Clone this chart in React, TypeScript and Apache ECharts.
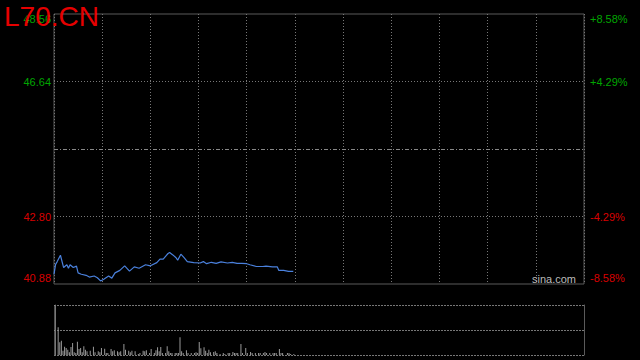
import React, { useEffect, useRef } from "react";
import * as echarts from "echarts";

const title = "L70.CN";
const prevClose = 44.72;
const pctTicks = [-8.58, -4.29, 0, 4.29, 8.58];

// minute index since open, price
const priceMinutes = [0, 1, 2, 4, 6, 8, 9, 10, 12, 14, 15, 17, 20, 22, 25, 27, 29, 31, 34, 36, 38, 41, 44, 47, 50, 53, 57, 60, 64, 66, 68, 71, 72, 74, 76, 77, 79, 81, 83, 87, 91, 93, 95, 98, 101, 104, 108, 111, 114, 117, 120, 122, 126, 130, 132, 136, 139, 140, 143, 146, 149];
const prices = [41.16, 41.44, 41.52, 41.70, 41.35, 41.43, 41.33, 41.43, 41.35, 41.39, 41.20, 41.16, 41.13, 41.08, 41.11, 41.06, 40.97, 41.02, 41.11, 41.05, 41.20, 41.27, 41.40, 41.25, 41.37, 41.33, 41.43, 41.40, 41.49, 41.59, 41.59, 41.75, 41.78, 41.71, 41.63, 41.56, 41.73, 41.63, 41.52, 41.49, 41.48, 41.52, 41.46, 41.50, 41.47, 41.51, 41.48, 41.50, 41.47, 41.47, 41.46, 41.43, 41.38, 41.38, 41.39, 41.37, 41.37, 41.27, 41.27, 41.24, 41.24];

const volMinutes = [0, 2, 3, 4, 5, 6, 7, 8, 9, 10, 11, 12, 13, 14, 15, 16, 17, 18, 19, 20, 22, 24, 25, 27, 28, 29, 31, 32, 33, 35, 36, 37, 39, 40, 41, 43, 44, 46, 47, 48, 50, 52, 53, 55, 56, 57, 59, 60, 62, 63, 64, 65, 66, 67, 69, 70, 71, 72, 73, 75, 76, 77, 78, 79, 80, 82, 83, 85, 87, 88, 89, 90, 91, 93, 94, 95, 96, 97, 99, 100, 101, 103, 105, 106, 108, 109, 111, 112, 113, 114, 116, 117, 119, 120, 122, 123, 125, 127, 128, 130, 131, 132, 134, 136, 137, 138, 140, 141, 142, 145, 146, 147, 149];
const volumes = [50, 27.7, 12.7, 14.3, 4.3, 8.3, 7, 5.3, 2.7, 8, 12, 2.7, 2, 13.3, 6, 7, 2.7, 8.7, 5.3, 3.7, 4.3, 8.3, 2.7, 3.7, 2.7, 7, 6.3, 2, 2, 6, 3.7, 4.7, 3.7, 2.7, 3.7, 11, 5.3, 4.3, 2.7, 4.3, 3.7, 1, 2, 4.3, 3.7, 4.7, 2, 6, 2, 4.7, 7.7, 3.7, 8, 2, 2, 8.7, 3.7, 2, 2, 2, 2, 2, 17.7, 3.7, 2, 4.7, 2, 2, 2, 2.7, 2, 13, 6.7, 7.7, 4.3, 2, 5.3, 2.7, 3, 3.7, 2, 1, 2, 1, 2, 2, 3, 2, 2, 2, 11, 2, 7, 2, 3, 2, 2, 2, 2, 2, 3, 2, 2, 2, 2, 2, 6, 2, 2, 2, 2, 1, 1];

const font = 'Arial, "Liberation Sans", sans-serif';
const green = "#00a600";
const red = "#d80000";

export default function App() {
  const ref = useRef<HTMLDivElement>(null);
  useEffect(() => {
    if (!ref.current) return;
    const chart = echarts.init(ref.current, null, { renderer: "svg" });
    const toPct = (p: number) => (p / prevClose - 1) * 100;
    const pctMin = pctTicks[0];
    const pctMax = pctTicks[pctTicks.length - 1];
    const near = (a: number, b: number) => Math.abs(a - b) < 1e-6;
    const leftFmt = (v: number) => {
      if (near(v, 0)) return "";
      const s = (prevClose * (1 + v / 100)).toFixed(2);
      const st = v > 0 ? "g" : "r";
      if (near(v, pctMax)) return `{gt|${s}}`;
      if (near(v, pctMin)) return `{rb|${s}}`;
      return `{${st}|${s}}`;
    };
    const rightFmt = (v: number) => {
      if (near(v, 0)) return "";
      const s = (v > 0 ? "+" : "") + v.toFixed(2) + "%";
      if (near(v, pctMax)) return `{gt|${s}}`;
      if (near(v, pctMin)) return `{rb|${s}}`;
      return `{${v > 0 ? "g" : "r"}|${s}}`;
    };
    const rich = {
      g: { color: green, fontSize: 11, fontFamily: font },
      r: { color: red, fontSize: 11, fontFamily: font },
      gt: { color: green, fontSize: 11, fontFamily: font, padding: [10, 0, 0, 0] },
      rb: { color: red, fontSize: 11, fontFamily: font, padding: [0, 0, 12, 0] },
    };
    chart.setOption({
      animation: false,
      backgroundColor: "#000",
      grid: [
        { left: 54, top: 14, width: 530, height: 270, show: true, borderColor: "#5a5a5a", borderWidth: 1, backgroundColor: "transparent" },
        { left: 54, top: 305, width: 530, height: 50 },
      ],
      xAxis: [
        {
          type: "value", gridIndex: 0, min: 0, max: 330, interval: 30,
          axisLine: { show: false }, axisTick: { show: false }, axisLabel: { show: false },
          splitLine: { show: true, lineStyle: { color: "#777", type: [1, 2], width: 1 } },
        },
        {
          type: "value", gridIndex: 1, min: -0.6, max: 330,
          axisLine: { show: false }, axisTick: { show: false }, axisLabel: { show: false },
          splitLine: { show: false },
        },
      ],
      yAxis: [
        {
          type: "value", gridIndex: 0, position: "left", min: pctMin, max: pctMax, interval: 4.29,
          axisLine: { show: false }, axisTick: { show: false },
          axisLabel: { margin: 3, formatter: leftFmt, rich },
          splitLine: { show: true, lineStyle: { color: ["transparent", "#777", "transparent", "#777", "transparent"], type: [1, 2], width: 1 } },
        },
        {
          type: "value", gridIndex: 0, position: "right", min: pctMin, max: pctMax, interval: 4.29,
          axisLine: { show: false }, axisTick: { show: false },
          axisLabel: { margin: 6, formatter: rightFmt, rich },
          splitLine: { show: false },
        },
        {
          type: "value", gridIndex: 1, position: "left", min: 0, max: 50, interval: 25,
          axisLine: { show: true, lineStyle: { color: "#5a5a5a" } }, axisTick: { show: false }, axisLabel: { show: false },
          splitLine: { show: true, lineStyle: { color: "#777", type: [2, 1], width: 1 } },
        },
        {
          type: "value", gridIndex: 1, position: "right", min: 0, max: 50, interval: 25,
          axisLine: { show: true, lineStyle: { color: "#5a5a5a" } }, axisTick: { show: false }, axisLabel: { show: false },
          splitLine: { show: false },
        },
      ],
      series: [
        {
          type: "line", xAxisIndex: 0, yAxisIndex: 0,
          data: priceMinutes.map((m, i) => [m, toPct(prices[i])]),
          symbol: "none", lineStyle: { color: "#4a80dc", width: 1.2 },
          markLine: {
            silent: true, symbol: "none", label: { show: false },
            lineStyle: { color: "#888", type: [4, 2, 1, 2], width: 1 },
            data: [{ yAxis: 0 }],
          },
        },
        {
          type: "bar", xAxisIndex: 1, yAxisIndex: 2,
          data: volMinutes.map((m, i) => [m, volumes[i]]),
          barWidth: 1, itemStyle: { color: "#999" },
        },
      ],
      graphic: [
        { type: "text", left: 4, top: 2, z: 100, style: { text: title, fill: "#e60000", font: `28px ${font}` } },
        { type: "text", left: 532, top: 273, z: 100, style: { text: "sina.com", fill: "#bbb", font: `11px ${font}` } },
      ],
    });
    return () => chart.dispose();
  }, []);
  return <div ref={ref} style={{ position: "fixed", left: 0, top: 0, width: 640, height: 360, background: "#000" }} />;
}
